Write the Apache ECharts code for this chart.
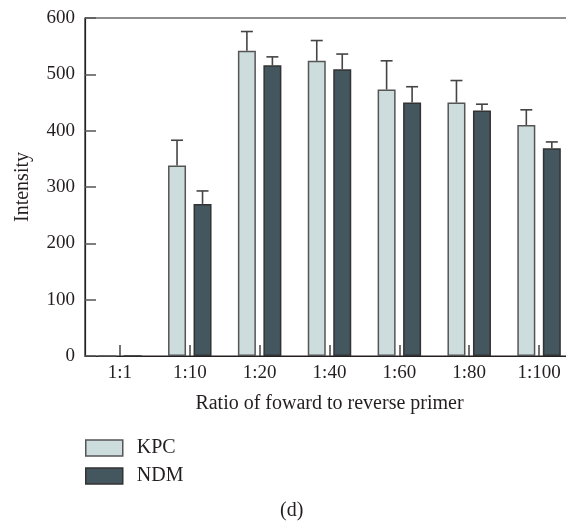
<!DOCTYPE html>
<html>
<head>
<meta charset="utf-8">
<script src="https://cdn.jsdelivr.net/npm/echarts@6/dist/echarts.min.js"></script>
<style>html,body{margin:0;padding:0;background:#fff}#c{width:566px;height:527px}</style>
</head>
<body>
<div id="c"></div>
<script>
var categories = ['1:1', '1:10', '1:20', '1:40', '1:60', '1:80', '1:100'];
var kpcValues = [0, 338, 542, 524, 473, 450, 410];
var kpcUpper  = [0, 383, 576, 560, 524, 489, 437];
var ndmValues = [0, 270, 516, 509, 450, 436, 369];
var ndmUpper  = [0, 293, 531, 536, 478, 447, 380];
var yTicks = [0, 100, 200, 300, 400, 500, 600];

var FONT = '"Liberation Serif", "DejaVu Serif", serif';
var TXT = '#231f20';
var BAR_W = 18, BAR_GAP_PX = 7.5;
var HALF = (BAR_W + BAR_GAP_PX) / 2;

function errSeries(vals, ups, dir) {
  return {
    type: 'custom',
    z: 5,
    silent: true,
    data: categories.map(function (c, i) { return [i, vals[i], ups[i]]; }),
    renderItem: function (params, api) {
      var i = api.value(0), v = api.value(1), u = api.value(2);
      if (!(u > v)) return null;
      var p0 = api.coord([i, v]);
      var p1 = api.coord([i, u]);
      var x = p0[0] + dir * HALF;
      var cw = 6;
      return {
        type: 'group',
        children: [
          { type: 'line', shape: { x1: x, y1: p0[1], x2: x, y2: p1[1] }, style: { stroke: '#444', lineWidth: 1.6 } },
          { type: 'line', shape: { x1: x - cw, y1: p1[1], x2: x + cw, y2: p1[1] }, style: { stroke: '#444', lineWidth: 1.6 } }
        ]
      };
    }
  };
}

var chart = echarts.init(document.getElementById('c'), null, { renderer: 'canvas' });
chart.setOption({
  animation: false,
  backgroundColor: '#fff',
  textStyle: { fontFamily: FONT, color: TXT },
  grid: { left: 85, top: 18, width: 489, height: 338, outerBoundsMode: 'none', containLabel: false, show: true, borderColor: '#231f20', borderWidth: 1.2, backgroundColor: 'transparent' },
  title: { text: '(d)', left: 280, top: 501, padding: 0, textStyle: { fontFamily: FONT, fontSize: 20, fontWeight: 'normal', color: TXT } },
  legend: {
    orient: 'vertical', left: 85, top: 438, padding: 0,
    itemWidth: 37, itemHeight: 16, itemGap: 8,
    icon: 'rect',
    textStyle: { fontFamily: FONT, fontSize: 20, color: TXT, padding: [0, 0, 0, 9] },
    data: [
      { name: 'KPC', itemStyle: { color: '#cddcdc', borderColor: '#555', borderWidth: 1.5 } },
      { name: 'NDM', itemStyle: { color: '#44565e', borderColor: '#333', borderWidth: 1.5 } }
    ]
  },
  xAxis: {
    type: 'category',
    data: categories,
    name: 'Ratio of foward to reverse primer',
    nameLocation: 'middle',
    nameGap: 38,
    nameTextStyle: { fontFamily: FONT, fontSize: 20, color: TXT },
    axisLine: { lineStyle: { color: '#231f20', width: 1.2 } },
    axisTick: { show: true, inside: true, length: 11, alignWithLabel: true, lineStyle: { color: '#444', width: 1.5 } },
    axisLabel: { fontFamily: FONT, fontSize: 19, color: TXT, margin: 8 }
  },
  yAxis: {
    type: 'value',
    min: 0, max: 600, interval: 100,
    name: 'Intensity',
    nameLocation: 'middle',
    nameGap: 52,
    nameRotate: 90,
    nameTextStyle: { fontFamily: FONT, fontSize: 20, color: TXT },
    axisLine: { show: true, lineStyle: { color: '#231f20', width: 1.2 } },
    axisTick: { show: true, inside: true, length: 11, lineStyle: { color: '#555', width: 1.5 } },
    splitLine: { show: false },
    axisLabel: {
      fontFamily: FONT, fontSize: 19, color: TXT, margin: 10,
      formatter: function (v) { return yTicks.indexOf(v) >= 0 ? String(v) : ''; }
    }
  },
  series: [
    {
      name: 'KPC', type: 'bar', data: kpcValues,
      barWidth: BAR_W, barGap: (BAR_GAP_PX / BAR_W * 100) + '%',
      itemStyle: { color: '#cddcdc', borderColor: '#555', borderWidth: 1.5 }
    },
    {
      name: 'NDM', type: 'bar', data: ndmValues,
      barWidth: BAR_W,
      itemStyle: { color: '#44565e', borderColor: '#333', borderWidth: 1.5 }
    },
    errSeries(kpcValues, kpcUpper, -1),
    errSeries(ndmValues, ndmUpper, 1)
  ]
});
</script>
</body>
</html>
